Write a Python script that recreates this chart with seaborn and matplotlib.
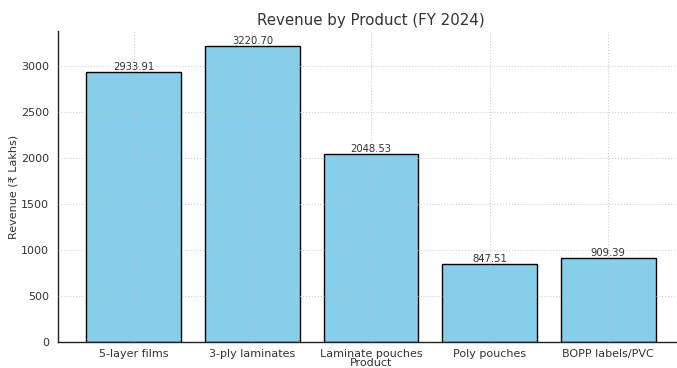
import matplotlib
matplotlib.use("Agg")
import matplotlib.pyplot as plt
import seaborn as sns
import pandas as pd

products = ["5-layer films", "3-ply laminates", "Laminate pouches", "Poly pouches", "BOPP labels/PVC"]
revenue = [2933.91, 3220.70, 2048.53, 847.51, 909.39]

df = pd.DataFrame({"Product": products, "Revenue": revenue})

sns.set_style("white")
plt.rcParams["font.family"] = ["DejaVu Sans"]
text_color = "#333333"

fig = plt.figure(figsize=(6.77, 3.68), dpi=100)
ax = fig.add_axes([58 / 677, 26 / 368, (684 - 58) / 677, (342 - 31) / 368])

sns.barplot(data=df, x="Product", y="Revenue", color="#87CEEB", edgecolor="black",
            linewidth=1.0, saturation=1, ax=ax, width=0.8)

for i, v in enumerate(revenue):
    ax.text(i, v, f"{v:.2f}", ha="center", va="bottom", fontsize=7.2, color=text_color)

ax.set_title("Revenue by Product (FY 2024)", fontsize=10.8, color=text_color, pad=4)
ax.set_xlabel("Product", fontsize=8, color=text_color, labelpad=-1)
ax.set_ylabel("Revenue (₹ Lakhs)", fontsize=8, color=text_color, labelpad=2)
ax.tick_params(axis="both", labelsize=8, colors=text_color, length=3, width=0.8)
ax.tick_params(axis="x", pad=2)
ax.set_yticks([0, 500, 1000, 1500, 2000, 2500, 3000])
ax.set_xlim(-0.64, 4.64)
ax.set_ylim(0, 3220.70 * 1.05)

ax.grid(True, linestyle=":", color="#bbbbbb", linewidth=0.8, alpha=0.7)
ax.set_axisbelow(False)
for s in ["top", "right"]:
    ax.spines[s].set_visible(False)
for s in ["left", "bottom"]:
    ax.spines[s].set_color("#222222")
    ax.spines[s].set_linewidth(1.0)

fig.savefig("out.png", dpi=100)
